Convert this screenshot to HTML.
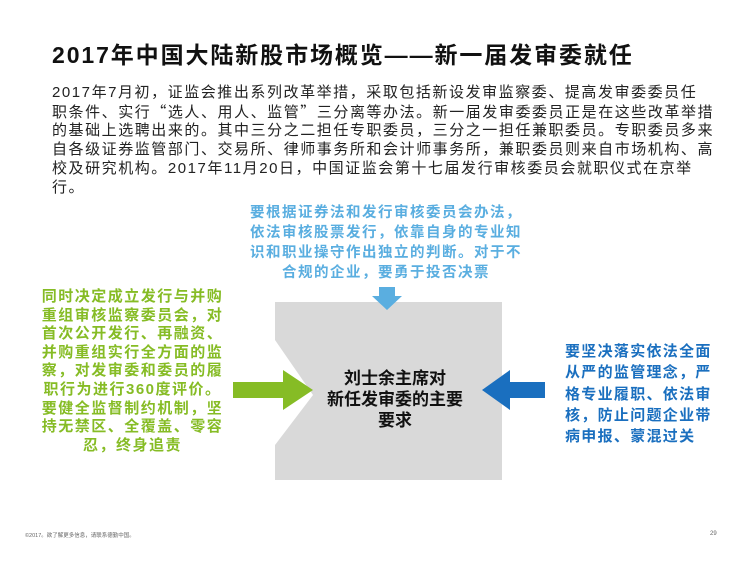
<!DOCTYPE html>
<html><head><meta charset="utf-8"><style>
body{margin:0;width:750px;height:563px;background:#fff;position:relative;overflow:hidden;font-family:"Liberation Sans","Noto Sans CJK SC",sans-serif}
.a{position:absolute;white-space:nowrap}
.q{font-family:"Noto Sans CJK SC",sans-serif}
#t{left:52px;top:36px;font-size:23px;font-weight:bold;color:#111;letter-spacing:1.9px}
#p{left:52px;top:84px;font-size:15px;line-height:18.7px;color:#222;letter-spacing:1.55px}
#top{left:236px;top:203px;width:300px;text-align:center;font-size:14.5px;line-height:20px;color:#5aaee0;font-weight:bold;letter-spacing:1.5px}
#g{left:35px;top:288px;width:195px;text-align:center;font-size:15px;line-height:18.6px;color:#86bc25;font-weight:bold;letter-spacing:1.5px}
#b{left:565px;top:341px;font-size:15px;line-height:21.3px;color:#1a6fbf;font-weight:bold;letter-spacing:1.3px}
#c{left:310px;top:368px;width:170px;text-align:center;font-size:17px;line-height:21px;color:#111;font-weight:bold}
#f{left:25px;top:531px;font-size:5.5px;color:#666}
#n{left:710px;top:531px;font-size:6px;color:#666}
</style></head><body>
<div class="a" id="t">2017年中国大陆新股市场概览——新一届发审委就任</div>
<div class="a" id="p">2017年7月初，证监会推出系列改革举措，采取包括新设发审监察委、提高发审委委员任<br>职条件、实行<span class="q">“</span>选人、用人、监管<span class="q">”</span>三分离等办法。新一届发审委委员正是在这些改革举措<br>的基础上选聘出来的。其中三分之二担任专职委员，三分之一担任兼职委员。专职委员多来<br>自各级证券监管部门、交易所、律师事务所和会计师事务所，兼职委员则来自市场机构、高<br>校及研究机构。2017年11月20日，中国证监会第十七届发行审核委员会就职仪式在京举<br>行。</div>
<div class="a" id="top">要根据证券法和发行审核委员会办法，<br>依法审核股票发行，依靠自身的专业知<br>识和职业操守作出独立的判断。对于不<br>合规的企业，要勇于投否决票</div>
<svg class="a" style="left:0;top:0" width="750" height="563">
<polygon points="275,302 502,302 502,480 275,480 275,445 313,395 275,340" fill="#d9d9d9"/>
<polygon points="379,287 395,287 395,296 402,296 387,310 372,296 379,296" fill="#5aaee0"/>
<polygon points="233,382 283,382 283,370 313,390 283,410 283,398 233,398" fill="#86bc25"/>
<polygon points="545,382 510,382 510,370 482,390 510,410 510,398 545,398" fill="#1a6fbf"/>
</svg>
<div class="a" id="g">同时决定成立发行与并购<br>重组审核监察委员会，对<br>首次公开发行、再融资、<br>并购重组实行全方面的监<br>察，对发审委和委员的履<br>职行为进行360度评价。<br>要健全监督制约机制，坚<br>持无禁区、全覆盖、零容<br>忍，终身追责</div>
<div class="a" id="b">要坚决落实依法全面<br>从严的监管理念，严<br>格专业履职、依法审<br>核，防止问题企业带<br>病申报、蒙混过关</div>
<div class="a" id="c">刘士余主席对<br>新任发审委的主要<br>要求</div>
<div class="a" id="f">©2017。欲了解更多信息，请联系德勤中国。</div>
<div class="a" id="n">29</div>
</body></html>
